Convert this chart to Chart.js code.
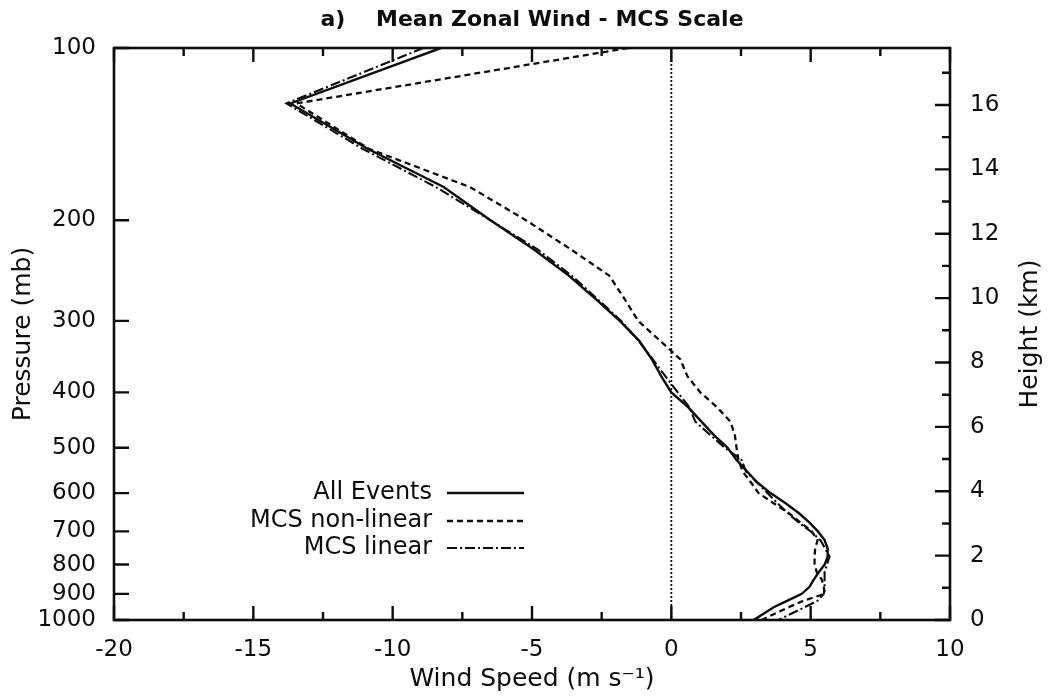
<!DOCTYPE html>
<html>
<head>
<meta charset="utf-8">
<script src="https://cdn.jsdelivr.net/npm/chart.js@4.4.1/dist/chart.umd.min.js"></script>
<style>
html,body{margin:0;padding:0;background:#fff;}
#wrap{width:1048px;height:700px;position:relative;}
</style>
</head>
<body>
<div id="wrap"><canvas id="c"></canvas></div>
<script>
// ---- data (pressure levels in mb, zonal wind in m/s) ----
const pressureLevels = [100,125,150,175,200,225,250,275,300,325,350,375,400,425,450,475,500,525,550,575,600,625,650,675,700,725,750,775,800,825,850,875,900,925,950,975,1000];
const allEvents = [-8.27,-13.67,-10.9,-8.17,-6.49,-4.93,-3.68,-2.70,-1.85,-1.15,-0.70,-0.36,0.0,0.61,1.08,1.53,2.02,2.34,2.72,3.09,3.56,4.10,4.57,4.95,5.26,5.50,5.61,5.61,5.50,5.29,5.11,4.96,4.68,4.17,3.67,3.31,2.95];
const mcsNonLinear = [-1.55,-13.45,-10.86,-7.23,-5.22,-3.6,-2.23,-1.67,-1.19,-0.40,0.32,0.58,1.04,1.65,2.12,2.28,2.34,2.41,2.56,2.86,3.13,3.67,4.21,4.63,5.04,5.25,5.16,5.14,5.14,5.22,5.40,5.47,5.50,4.75,4.21,3.71,3.24];
const mcsLinear = [-8.9,-13.81,-11.08,-8.45,-6.50,-4.80,-3.58,-2.64,-1.80,-1.18,-0.67,-0.21,0.23,0.65,0.86,1.40,1.92,2.52,2.68,3.08,3.45,3.81,4.17,4.57,5.00,5.35,5.52,5.68,5.58,5.50,5.50,5.50,5.47,5.25,4.78,4.30,3.85];
const seriesLabels = ['All Events','MCS non-linear','MCS linear'];

// ---- axes / ticks ----
const pressureTicks = [100,200,300,400,500,600,700,800,900,1000];
const windTicks = [-20,-15,-10,-5,0,5,10];
const windMinorTicks = [-17.5,-12.5,-7.5,-2.5,2.5,7.5];
const heightTicks = [0,2,4,6,8,10,12,14,16];
const heightMinorTicks = [1,3,5,7,9,11,13,15,17];
const heightMax = 17.77;
const titleText = 'a)    Mean Zonal Wind - MCS Scale';
const xTitle = 'Wind Speed (m s\u207B\u00B9)';
const yTitle = 'Pressure (mb)';
const y2Title = 'Height (km)';

const F = 'DejaVu Sans';
const INK = '#0d0d0d';

function toPoints(vals){ return pressureLevels.map((p,i)=>({x: vals[i], y: p})); }

const frameTicksLegend = {
  id: 'frameTicksLegend',
  afterDatasetsDraw(chart) {
    const {ctx, chartArea: a, scales} = chart;
    const xs = scales.x, ys = scales.y, hs = scales.yH;
    ctx.save();
    ctx.strokeStyle = INK;
    ctx.lineWidth = 2.6;
    ctx.strokeRect(a.left, a.top, a.right - a.left, a.bottom - a.top);
    ctx.lineWidth = 2.4;
    ctx.beginPath();
    pressureTicks.forEach(p => {
      const py = ys.getPixelForValue(p);
      ctx.moveTo(a.left, py); ctx.lineTo(a.left + 15, py);
    });
    windTicks.forEach(v => {
      const px = xs.getPixelForValue(v);
      ctx.moveTo(px, a.bottom); ctx.lineTo(px, a.bottom - 14);
      ctx.moveTo(px, a.top); ctx.lineTo(px, a.top + 14);
    });
    windMinorTicks.forEach(v => {
      const px = xs.getPixelForValue(v);
      ctx.moveTo(px, a.bottom); ctx.lineTo(px, a.bottom - 8);
      ctx.moveTo(px, a.top); ctx.lineTo(px, a.top + 8);
    });
    heightTicks.forEach(v => {
      const py = hs.getPixelForValue(v);
      ctx.moveTo(a.right, py); ctx.lineTo(a.right - 15, py);
    });
    heightMinorTicks.forEach(v => {
      const py = hs.getPixelForValue(v);
      ctx.moveTo(a.right, py); ctx.lineTo(a.right - 8, py);
    });
    ctx.stroke();

    // legend
    ctx.fillStyle = INK;
    ctx.font = '24px "' + F + '"';
    ctx.textAlign = 'right';
    ctx.textBaseline = 'middle';
    const textRight = a.left + 318, lineL = a.left + 333, lineR = a.left + 410;
    const rowY = [493, 521, 548];
    [0,1,2].forEach(i => {
      const ds = chart.data.datasets[i];
      ctx.fillText(ds.label, textRight, rowY[i]);
      ctx.save();
      ctx.strokeStyle = ds.borderColor;
      ctx.lineWidth = ds.borderWidth;
      ctx.setLineDash(ds.borderDash || []);
      ctx.beginPath();
      ctx.moveTo(lineL, rowY[i]); ctx.lineTo(lineR, rowY[i]);
      ctx.stroke();
      ctx.restore();
    });

    // right axis title (reads bottom to top)
    ctx.save();
    ctx.translate(1030, (a.top + a.bottom) / 2);
    ctx.rotate(-Math.PI / 2);
    ctx.textAlign = 'center';
    ctx.textBaseline = 'middle';
    ctx.font = '25px "' + F + '"';
    ctx.fillText(y2Title, 0, 0);
    ctx.restore();
    ctx.restore();
  }
};

new Chart(document.getElementById('c'), {
  type: 'line',
  data: {
    datasets: [
      { label: seriesLabels[0], data: toPoints(allEvents), borderColor: INK, borderWidth: 2.4, borderDash: [], pointRadius: 0, tension: 0, yAxisID: 'y' },
      { label: seriesLabels[1], data: toPoints(mcsNonLinear), borderColor: INK, borderWidth: 2.3, borderDash: [6,4], pointRadius: 0, tension: 0, yAxisID: 'y' },
      { label: seriesLabels[2], data: toPoints(mcsLinear), borderColor: INK, borderWidth: 2.1, borderDash: [10,3,2,3], pointRadius: 0, tension: 0, yAxisID: 'y' },
      { label: 'zero', data: [{x:0,y:100},{x:0,y:1000}], borderColor: INK, borderWidth: 1.8, borderDash: [2,2], pointRadius: 0, yAxisID: 'y' }
    ]
  },
  options: {
    responsive: true,
    maintainAspectRatio: false,
    animation: false,
    layout: { padding: 0 },
    plugins: {
      legend: { display: false },
      tooltip: { enabled: false },
      title: {
        display: true, text: titleText, fullSize: false, color: INK,
        font: { family: F, size: 22, weight: 'bold', lineHeight: 1.2 },
        padding: { top: 7, bottom: 14.6 }
      }
    },
    scales: {
      x: {
        type: 'linear', position: 'bottom', min: -20, max: 10,
        afterBuildTicks: s => { s.ticks = windTicks.map(v => ({value: v})); },
        afterFit: s => { s.height = 80; },
        grid: { display: false, drawTicks: false }, border: { display: false },
        ticks: { padding: 16, color: INK, autoSkip: false, maxRotation: 0, font: { family: F, size: 23 }, callback: v => String(v) },
        title: { display: true, text: xTitle, color: INK, font: { family: F, size: 25 }, padding: 6 }
      },
      y: {
        type: 'logarithmic', position: 'left', reverse: true, min: 100, max: 1000,
        afterBuildTicks: s => { s.ticks = pressureTicks.map(v => ({value: v})); },
        afterFit: s => { s.width = 114; },
        grid: { display: false, drawTicks: false }, border: { display: false },
        ticks: { padding: 18, color: INK, autoSkip: false, font: { family: F, size: 23 }, callback: v => String(v) },
        title: { display: true, text: yTitle, color: INK, font: { family: F, size: 25 }, padding: 8 }
      },
      yH: {
        type: 'linear', position: 'right', min: 0, max: heightMax,
        afterBuildTicks: s => { s.ticks = heightTicks.map(v => ({value: v})); },
        afterFit: s => { s.width = 98; },
        grid: { display: false, drawTicks: false }, border: { display: false },
        ticks: { padding: 20, color: INK, autoSkip: false, font: { family: F, size: 23 }, callback: v => String(v) }
      }
    }
  },
  plugins: [frameTicksLegend]
});
</script>
</body>
</html>
